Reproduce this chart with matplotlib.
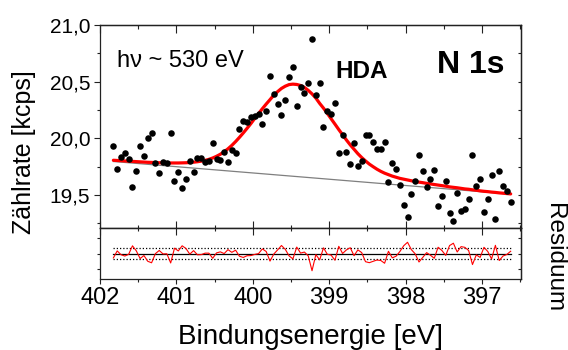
import matplotlib
matplotlib.use('Agg')
import matplotlib.pyplot as plt
from matplotlib.ticker import MultipleLocator, FixedLocator, NullFormatter

plt.rcParams['font.family'] = ['Liberation Sans', 'DejaVu Sans']

# ---------------- data ----------------
energy = [401.825, 401.775, 401.725, 401.675, 401.625, 401.575, 401.525, 401.475, 401.425, 401.375,
          401.325, 401.275, 401.225, 401.175, 401.125, 401.075, 401.025, 400.975, 400.925, 400.875,
          400.825, 400.775, 400.725, 400.675, 400.625, 400.575, 400.525, 400.475, 400.425, 400.375,
          400.325, 400.275, 400.225, 400.175, 400.125, 400.075, 400.025, 399.975, 399.925, 399.875,
          399.825, 399.775, 399.725, 399.675, 399.625, 399.575, 399.525, 399.475, 399.425, 399.375,
          399.325, 399.275, 399.225, 399.175, 399.125, 399.075, 399.025, 398.975, 398.925, 398.875,
          398.825, 398.775, 398.725, 398.675, 398.625, 398.575, 398.525, 398.475, 398.425, 398.375,
          398.325, 398.275, 398.225, 398.175, 398.125, 398.075, 398.025, 397.975, 397.925, 397.875,
          397.825, 397.775, 397.725, 397.675, 397.625, 397.575, 397.525, 397.475, 397.425, 397.375,
          397.325, 397.275, 397.225, 397.175, 397.125, 397.075, 397.025, 396.975, 396.925, 396.875,
          396.825, 396.775, 396.725, 396.675, 396.625]

counts = [19.928, 19.726, 19.832, 19.868, 19.817, 19.573, 19.714, 19.932, 19.844, 20.005,
          20.047, 19.785, 19.694, 19.791, 19.785, 20.047, 19.626, 19.705, 19.559, 19.638,
          19.800, 19.703, 19.826, 19.826, 19.791, 19.800, 19.959, 19.820, 19.808, 19.879,
          19.793, 19.899, 19.873, 20.082, 20.155, 20.147, 20.185, 20.197, 20.217, 20.126,
          20.241, 20.553, 20.391, 20.305, 20.208, 20.338, 20.538, 20.627, 20.288, 20.450,
          20.404, 20.484, 20.878, 20.382, 20.485, 20.100, 20.238, 20.214, 20.312, 19.868,
          20.026, 19.879, 19.773, 19.961, 19.756, 19.800, 20.029, 20.029, 19.967, 19.908,
          19.903, 19.965, 19.612, 19.785, 19.729, 19.585, 19.414, 19.308, 19.511, 19.623,
          19.850, 19.714, 19.573, 19.643, 19.723, 19.405, 19.493, 19.626, 19.341, 19.270,
          19.515, 19.358, 19.373, 19.462, 19.855, 19.576, 19.643, 19.352, 19.467, 19.676,
          19.285, 19.714, 19.582, 19.535, 19.440]

fit = [19.806, 19.804, 19.802, 19.800, 19.798, 19.796, 19.794, 19.792, 19.790, 19.788,
       19.787, 19.785, 19.784, 19.783, 19.782, 19.782, 19.782, 19.782, 19.783, 19.784,
       19.786, 19.789, 19.793, 19.798, 19.805, 19.814, 19.826, 19.841, 19.859, 19.881,
       19.907, 19.937, 19.971, 20.008, 20.047, 20.088, 20.130, 20.175, 20.218, 20.261,
       20.302, 20.341, 20.381, 20.412, 20.440, 20.460, 20.474, 20.478, 20.475, 20.466,
       20.449, 20.423, 20.392, 20.355, 20.308, 20.266, 20.220, 20.172, 20.125, 20.077,
       20.031, 19.985, 19.942, 19.903, 19.864, 19.830, 19.800, 19.772, 19.749, 19.727,
       19.708, 19.692, 19.679, 19.666, 19.656, 19.646, 19.639, 19.632, 19.625, 19.618,
       19.613, 19.608, 19.602, 19.597, 19.592, 19.587, 19.582, 19.577, 19.571, 19.567,
       19.563, 19.558, 19.553, 19.550, 19.545, 19.541, 19.536, 19.532, 19.529, 19.525,
       19.522, 19.518, 19.515, 19.512, 19.509]

baseline_energy = [401.825, 396.625]
baseline_counts = [19.795, 19.507]

residual = [f - c for f, c in zip(fit, counts)]
resid_band = 0.155

x_ticks = [402, 401, 400, 399, 398, 397]
x_ticklabels = ['402', '401', '400', '399', '398', '397']
y_ticks = [19.5, 20.0, 20.5, 21.0]
y_ticklabels = ['19,5', '20,0', '20,5', '21,0']
resid_ticks = [-0.44, 0.0, 0.44]

# ---------------- figure ----------------
W, H = 568, 350
fig = plt.figure(figsize=(W / 100, H / 100), dpi=100)
ax = fig.add_axes([100 / W, 1 - 228 / H, 421 / W, 203 / H])
axr = fig.add_axes([100 / W, 1 - 279.3 / H, 421 / W, 51.3 / H], sharex=ax)

for a in (ax, axr):
    for s in a.spines.values():
        s.set_linewidth(0.9)
        s.set_color('#222222')

# main panel
ax.plot(baseline_energy, baseline_counts, color='#7f7f7f', lw=0.9, zorder=2)
ax.plot(energy, fit, color='#ff0000', lw=2.3, zorder=3, solid_capstyle='round')
ax.plot(energy, counts, 'o', color='black', ms=4.7, mec='black', mew=0, zorder=4)

ax.set_xlim(402, 396.49)
ax.set_ylim(19.208, 21.0)
ax.xaxis.set_major_locator(FixedLocator(x_ticks))
ax.xaxis.set_minor_locator(MultipleLocator(0.5))
ax.yaxis.set_major_locator(FixedLocator(y_ticks))
ax.yaxis.set_minor_locator(MultipleLocator(0.25))
ax.set_yticklabels(y_ticklabels)
ax.tick_params(axis='x', which='both', direction='in', bottom=True, top=False,
               labelbottom=False, width=0.8, color='#222222')
ax.tick_params(axis='x', which='major', length=4.7)
ax.tick_params(axis='x', which='minor', length=2.4)
ax.tick_params(axis='y', which='both', direction='out', left=True, right=False,
               labelsize=15, pad=3, width=0.8, color='#222222')
ax.tick_params(axis='y', which='major', length=4.0)
ax.tick_params(axis='y', which='minor', length=2.4)

top = ax.secondary_xaxis('top')
top.xaxis.set_major_locator(FixedLocator(x_ticks))
top.xaxis.set_minor_locator(MultipleLocator(0.5))
top.xaxis.set_major_formatter(NullFormatter())
top.tick_params(which='both', direction='in', width=0.8, color='#222222')
top.tick_params(which='major', length=5.6)
top.tick_params(which='minor', length=2.6)
top.spines['top'].set_linewidth(0.9)

right = ax.secondary_yaxis('right')
right.yaxis.set_major_locator(FixedLocator(y_ticks))
right.yaxis.set_minor_locator(MultipleLocator(0.25))
right.yaxis.set_major_formatter(NullFormatter())
right.tick_params(which='both', direction='in', length=2.2, width=0.8, color='#222222')
right.spines['right'].set_linewidth(0.9)

ax.text(0.0404, 0.7946, 'hν ~ 530 eV', transform=ax.transAxes, fontsize=17,
        va='baseline', ha='left')
ax.text(0.558, 0.7374, 'HDA', transform=ax.transAxes, fontsize=17.5,
        fontweight='bold', va='baseline', ha='left')
ax.text(0.8005, 0.762, 'N 1s', transform=ax.transAxes, fontsize=23,
        fontweight='bold', va='baseline', ha='left')

# residual panel
axr.plot([energy[0], energy[-1]], [0, 0], color='black', lw=0.9, zorder=2)
axr.plot([energy[0], energy[-1]], [resid_band, resid_band], color='black', lw=0.9,
         ls=(0, (1, 1.6)), zorder=2)
axr.plot([energy[0], energy[-1]], [-resid_band, -resid_band], color='black', lw=0.9,
         ls=(0, (1, 1.6)), zorder=2)
axr.plot(energy, residual, color='#ff0000', lw=0.8, zorder=3)
axr.set_ylim(-0.73, 0.73)
axr.yaxis.set_major_locator(FixedLocator(resid_ticks))
axr.yaxis.set_major_formatter(NullFormatter())
axr.set_xticks(x_ticks)
axr.set_xticklabels(x_ticklabels)
axr.xaxis.set_minor_locator(MultipleLocator(0.5))
axr.tick_params(axis='x', which='both', direction='out', labelsize=17, pad=2,
                width=0.8, color='#222222')
axr.tick_params(axis='x', which='major', length=3.8)
axr.tick_params(axis='x', which='minor', length=2.2)
axr.tick_params(axis='y', which='both', direction='out', length=2.5, width=0.8,
                color='#222222', right=False)

rtop = axr.secondary_xaxis('top')
rtop.xaxis.set_major_locator(FixedLocator(x_ticks))
rtop.xaxis.set_minor_locator(MultipleLocator(0.5))
rtop.xaxis.set_major_formatter(NullFormatter())
rtop.tick_params(which='both', direction='in', width=0.8, color='#222222')
rtop.tick_params(which='major', length=4.7)
rtop.tick_params(which='minor', length=2.4)
rtop.spines['top'].set_linewidth(0.9)

rright = axr.secondary_yaxis('right')
rright.yaxis.set_major_locator(FixedLocator(resid_ticks))
rright.yaxis.set_major_formatter(NullFormatter())
rright.tick_params(which='both', direction='in', length=2.5, width=0.8, color='#222222')
rright.spines['right'].set_linewidth(0.9)

# axis labels
fig.text(0.043, 1 - 152.5 / H, 'Zählrate [kcps]', rotation=90, ha='center',
         va='center', fontsize=18)
fig.text(553.5 / W, 1 - 258 / H, 'Residuum', rotation=270, ha='center',
         va='center', fontsize=17.5)
fig.text(310.5 / W, 1 - 344 / H, 'Bindungsenergie [eV]', ha='center',
         va='baseline', fontsize=20)

fig.savefig('out.png', dpi=100)
